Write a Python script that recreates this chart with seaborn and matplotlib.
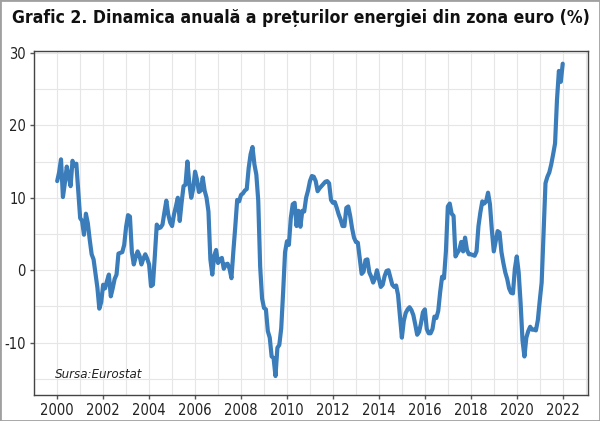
import matplotlib
matplotlib.use('Agg')
import matplotlib.pyplot as plt
from matplotlib.patches import Rectangle
from matplotlib.ticker import MultipleLocator, StrMethodFormatter
import pandas as pd
import seaborn as sns

# Rata anuala a preturilor energiei (HICP energie, zona euro), lunar
v2000 = [12.3, 13.5, 15.3, 10.1, 12.0, 14.3, 13.0, 11.6, 15.1, 14.4, 14.7, 11.0]
v2001 = [7.2, 6.8, 4.9, 7.8, 6.5, 4.2, 2.2, 1.5, -0.5, -2.4, -5.3, -4.4]
v2002 = [-2.0, -2.5, -1.5, -0.6, -3.6, -2.5, -1.2, -0.6, 2.3, 2.4, 2.5, 3.5]
v2003 = [6.0, 7.6, 7.4, 2.5, 0.8, 1.8, 2.6, 2.0, 0.8, 1.6, 2.2, 1.6]
v2004 = [0.8, -2.2, -2.0, 2.0, 6.3, 5.8, 5.9, 6.3, 8.0, 9.6, 7.7, 6.6]
v2005 = [6.1, 7.7, 8.8, 10.0, 6.8, 9.4, 11.6, 11.8, 15.0, 12.0, 10.0, 11.2]
v2006 = [13.6, 12.5, 10.8, 11.0, 12.8, 11.0, 10.0, 8.1, 1.5, -0.6, 2.0, 2.8]
v2007 = [1.0, 1.5, 1.7, 0.2, 0.8, 0.9, 0.2, -1.1, 2.6, 6.0, 9.7, 9.5]
v2008 = [10.4, 10.6, 11.0, 11.2, 14.1, 16.0, 17.0, 14.6, 13.2, 9.6, 0.5, -3.9]
v2009 = [-5.2, -5.4, -8.4, -9.3, -11.9, -12.1, -14.6, -10.7, -10.3, -8.0, -3.0, 2.5]
v2010 = [4.0, 3.5, 7.2, 9.1, 9.3, 6.1, 8.2, 6.0, 8.2, 8.1, 10.0, 11.0]
v2011 = [12.3, 13.0, 12.9, 12.3, 10.9, 11.3, 11.6, 11.9, 12.2, 12.3, 12.0, 9.7]
v2012 = [9.3, 9.4, 8.6, 7.7, 7.0, 6.1, 6.1, 8.6, 8.8, 7.5, 5.8, 4.5]
v2013 = [3.9, 3.8, 1.7, -0.5, -0.2, 1.4, 1.5, -0.3, -0.9, -1.7, -1.1, 0.0]
v2014 = [-1.2, -2.3, -2.0, -0.8, -0.1, 0.0, -1.0, -2.0, -2.3, -2.1, -3.4, -6.3]
v2015 = [-9.3, -7.0, -5.9, -5.4, -5.1, -5.5, -6.2, -7.5, -8.9, -8.5, -7.3, -5.8]
v2016 = [-5.4, -8.1, -8.7, -8.7, -8.1, -6.4, -6.6, -5.6, -3.0, -0.9, -1.1, 2.6]
v2017 = [8.8, 9.2, 7.8, 7.5, 1.9, 2.4, 2.8, 3.9, 2.6, 4.5, 2.8, 2.2]
v2018 = [2.2, 2.1, 2.0, 2.6, 6.1, 8.0, 9.5, 9.2, 9.5, 10.7, 9.1, 5.5]
v2019 = [2.6, 4.0, 5.4, 5.2, 2.5, 1.0, -0.3, -1.2, -2.5, -3.1, -3.2, 0.2]
v2020 = [1.9, -0.3, -4.5, -9.7, -11.9, -9.3, -8.4, -7.8, -8.2, -8.2, -8.3, -6.9]
v2021 = [-4.2, -1.7, 5.0, 12.0, 12.9, 13.5, 14.6, 16.0, 17.5, 23.5, 27.5, 26.0]
v2022 = [28.5]

titlu = 'Grafic 2. Dinamica anuală a prețurilor energiei din zona euro (%)'
sursa = 'Sursa:Eurostat'

valori = (v2000 + v2001 + v2002 + v2003 + v2004 + v2005 + v2006 + v2007 +
          v2008 + v2009 + v2010 + v2011 + v2012 + v2013 + v2014 + v2015 +
          v2016 + v2017 + v2018 + v2019 + v2020 + v2021 + v2022)
luni = pd.date_range('2000-01-01', periods=len(valori), freq='MS')
df = pd.DataFrame({'an': luni.year + (luni.month - 1) / 12, 'energie': valori})

sns.set_style('ticks')
plt.rcParams['font.family'] = ['DejaVu Sans']
plt.rcParams['font.stretch'] = 'condensed'
plt.rcParams['axes.unicode_minus'] = False

fig = plt.figure(figsize=(6, 4.21), dpi=100)
ax = fig.add_axes([0.057, 0.062, 0.923, 0.816])
sns.lineplot(data=df, x='an', y='energie', ax=ax, color='#3a7dba', lw=3.0)

ax.set_xlim(1999.0, 2023.1)
ax.set_ylim(-17.2, 30.2)
ax.xaxis.set_major_locator(MultipleLocator(2))
ax.xaxis.set_minor_locator(MultipleLocator(1))
ax.xaxis.set_major_formatter(StrMethodFormatter('{x:.0f}'))
ax.yaxis.set_major_locator(MultipleLocator(10))
ax.yaxis.set_minor_locator(MultipleLocator(5))
ax.grid(which='both', color='#e6e6e6', lw=0.8)
ax.set_axisbelow(True)
ax.tick_params(which='minor', length=0)
ax.tick_params(which='major', length=3, width=1, color='#555555',
               labelsize=10.5, labelcolor='#222222', pad=3)
for s in ax.spines.values():
    s.set_color('#444444')
    s.set_linewidth(1)
ax.set_xlabel('')
ax.set_ylabel('')

ax.text(0.038, 0.058, sursa, transform=ax.transAxes, fontsize=9.5,
        style='italic', color='#222222', va='center')
t = fig.text(0.02, 0.957, titlu, fontsize=15, fontweight='bold', va='center',
             color='#111111')
# ajustam marimea titlului ca sa incapa in latimea imaginii
fig.canvas.draw()
w = t.get_window_extent().width
t.set_fontsize(15 * 576 / w)

fig.patches.append(Rectangle((0, 0), 1, 1, transform=fig.transFigure,
                             fill=False, edgecolor='#a0a0a0', lw=2))

fig.savefig('out.png', dpi=100)
